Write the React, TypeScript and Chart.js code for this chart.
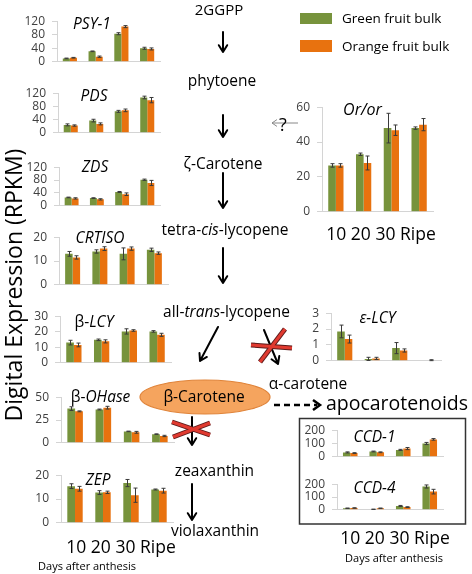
import React, { useEffect, useRef } from "react";
import { Chart, registerables } from "chart.js";
Chart.register(...registerables);

// ---------- data ----------
const CATEGORIES = ["10", "20", "30", "Ripe"];
const SERIES_NAMES = ["Green fruit bulk", "Orange fruit bulk"];
const X_TITLE = "Days after anthesis";
const Y_TITLE = "Digital Expression (RPKM)";

const PSY1_GREEN = [10, 31, 83, 40];
const PSY1_ORANGE = [12, 15, 104, 38];
const PSY1_GREEN_ERR = [1, 1, 3, 3];
const PSY1_ORANGE_ERR = [1, 2, 3, 3];

const PDS_GREEN = [24, 37, 65, 107];
const PDS_ORANGE = [22, 27, 68, 99];
const PDS_GREEN_ERR = [3, 4, 3, 4];
const PDS_ORANGE_ERR = [2, 3, 4, 8];

const ZDS_GREEN = [26, 24, 43, 81];
const ZDS_ORANGE = [23, 20, 36, 71];
const ZDS_GREEN_ERR = [1, 1, 1.5, 2];
const ZDS_ORANGE_ERR = [2, 2, 4, 8];

const CRTISO_GREEN = [13, 14, 13, 14.7];
const CRTISO_ORANGE = [11.5, 15.2, 15.2, 13.3];
const CRTISO_GREEN_ERR = [1, 0.7, 2.5, 0.7];
const CRTISO_ORANGE_ERR = [0.7, 0.8, 0.7, 0.5];

const BLCY_GREEN = [13, 14.8, 20.2, 20.2];
const BLCY_ORANGE = [11.5, 13.8, 20.8, 18];
const BLCY_GREEN_ERR = [1.5, 0.5, 1.7, 0.5];
const BLCY_ORANGE_ERR = [1.2, 1, 0.5, 1];

const BOH_GREEN = [37.5, 36.5, 12.5, 9.5];
const BOH_ORANGE = [34.5, 38.5, 11.5, 7.5];
const BOH_GREEN_ERR = [2, 0.5, 0.3, 0.3];
const BOH_ORANGE_ERR = [0.5, 1.5, 1, 0.7];

const ZEP_GREEN = [15.4, 12.7, 16.7, 14];
const ZEP_ORANGE = [14.3, 12.8, 11.6, 13.5];
const ZEP_GREEN_ERR = [1, 0.8, 1.5, 0.2];
const ZEP_ORANGE_ERR = [1, 0.5, 3, 1];

const OR_GREEN = [26.6, 33, 48, 48];
const OR_ORANGE = [26.6, 28, 46.8, 50];
const OR_GREEN_ERR = [1, 0.7, 8.5, 0.7];
const OR_ORANGE_ERR = [1, 4, 3, 3.5];

const ELCY_GREEN = [1.85, 0.12, 0.8, 0];
const ELCY_ORANGE = [1.37, 0.15, 0.65, 0.04];
const ELCY_GREEN_ERR = [0.4, 0.1, 0.35, 0];
const ELCY_ORANGE_ERR = [0.25, 0.07, 0.1, 0.03];

const CCD1_GREEN = [33, 40, 52, 100];
const CCD1_ORANGE = [28, 34, 62, 131];
const CCD1_GREEN_ERR = [4, 3, 4, 8];
const CCD1_ORANGE_ERR = [3, 3, 8, 6];

const CCD4_GREEN = [12, 4, 30, 182];
const CCD4_ORANGE = [14, 12, 21, 142];
const CCD4_GREEN_ERR = [2, 1, 4, 12];
const CCD4_ORANGE_ERR = [2, 2, 3, 18];

// ---------- styles ----------
const GREEN = "#77933C";
const ORANGE = "#E8720F";
const AXIS = "#D4D4D4";
const TICK = "#404040";
const FONT = "'Open Sans', sans-serif";

Chart.defaults.font.family = FONT;

const errorBarPlugin = {
  id: "errbars",
  afterDatasetsDraw(chart: any) {
    const ctx = chart.ctx;
    const ys = chart.scales.y;
    ctx.save();
    ctx.strokeStyle = "#3a3a3a";
    ctx.lineWidth = 1;
    chart.data.datasets.forEach((ds: any, i: number) => {
      const meta = chart.getDatasetMeta(i);
      meta.data.forEach((bar: any, j: number) => {
        const e = ds.errors ? ds.errors[j] : 0;
        if (!e) return;
        const v = ds.data[j];
        const x = Math.round(bar.x) + 0.5;
        const y1 = ys.getPixelForValue(v + e);
        const y2 = ys.getPixelForValue(Math.max(0, v - e));
        ctx.beginPath();
        ctx.moveTo(x, y1);
        ctx.lineTo(x, y2);
        ctx.moveTo(x - 2, y1);
        ctx.lineTo(x + 2, y1);
        ctx.moveTo(x - 2, y2);
        ctx.lineTo(x + 2, y2);
        ctx.stroke();
      });
    });
    ctx.restore();
  },
};

type PanelProps = {
  left: number;
  right: number;
  top: number;
  bottom: number;
  max: number;
  step: number;
  green: number[];
  orange: number[];
  gErr: number[];
  oErr: number[];
};

function Panel(p: PanelProps) {
  const ref = useRef<HTMLCanvasElement>(null);
  const YW = 40, PT = 10, PR = 4, PB = 4;
  const L = Math.round(p.left), R = Math.round(p.right);
  const T = Math.round(p.top), B = Math.round(p.bottom);
  const cw = R - L + YW + PR;
  const ch = B - T + PT + PB;
  useEffect(() => {
    const chart = new Chart(ref.current as HTMLCanvasElement, {
      type: "bar",
      data: {
        labels: CATEGORIES,
        datasets: [
          {
            label: SERIES_NAMES[0],
            data: p.green,
            backgroundColor: GREEN,
            borderWidth: 0,
            categoryPercentage: 0.55,
            barPercentage: 1,
            errors: p.gErr,
          } as any,
          {
            label: SERIES_NAMES[1],
            data: p.orange,
            backgroundColor: ORANGE,
            borderWidth: 0,
            categoryPercentage: 0.55,
            barPercentage: 1,
            errors: p.oErr,
          } as any,
        ],
      },
      options: {
        responsive: false,
        animation: false,
        devicePixelRatio: 1,
        layout: { padding: { left: 0, top: PT, right: PR, bottom: PB } },
        plugins: { legend: { display: false }, tooltip: { enabled: false } },
        scales: {
          x: {
            grid: { display: false },
            border: { display: true, color: AXIS, width: 1 },
            ticks: { display: false },
            afterFit: (s: any) => {
              s.height = 0;
            },
          },
          y: {
            min: 0,
            max: p.max,
            afterFit: (s: any) => {
              s.width = YW;
            },
            ticks: {
              stepSize: p.step,
              autoSkip: false,
              font: { size: 12 },
              color: TICK,
              padding: 7,
            },
            grid: {
              display: true,
              drawOnChartArea: false,
              drawTicks: true,
              tickLength: 5,
              color: AXIS,
            },
            border: { display: true, color: AXIS },
          },
        },
      } as any,
      plugins: [errorBarPlugin],
    });
    return () => chart.destroy();
  }, []);
  return (
    <canvas
      ref={ref}
      width={cw}
      height={ch}
      style={{ position: "absolute", left: L - YW, top: T - PT, width: cw, height: ch }}
    />
  );
}

function Txt(props: {
  x: number;
  y: number;
  size: number;
  italic?: boolean;
  color?: string;
  children: React.ReactNode;
}) {
  return (
    <div
      style={{
        position: "absolute",
        left: props.x,
        top: props.y,
        transform: "translate(-50%,-50%)",
        fontSize: props.size,
        fontStyle: props.italic ? "italic" : "normal",
        color: props.color || "#000",
        whiteSpace: "nowrap",
        lineHeight: 1,
        fontFamily: FONT,
      }}
    >
      {props.children}
    </div>
  );
}

function arrowPath(x1: number, y1: number, x2: number, y2: number, len = 8, ang = 0.55) {
  const a = Math.atan2(y2 - y1, x2 - x1);
  const p1x = x2 - len * Math.cos(a - ang), p1y = y2 - len * Math.sin(a - ang);
  const p2x = x2 - len * Math.cos(a + ang), p2y = y2 - len * Math.sin(a + ang);
  return `M${x1},${y1} L${x2},${y2} M${p1x},${p1y} L${x2},${y2} L${p2x},${p2y}`;
}

function RedX(props: { a: number[]; b: number[] }) {
  const { a, b } = props;
  return (
    <g strokeLinecap="butt">
      <line x1={a[0]} y1={a[1]} x2={a[2]} y2={a[3]} stroke="#5a1a1a" strokeWidth={5} />
      <line x1={b[0]} y1={b[1]} x2={b[2]} y2={b[3]} stroke="#5a1a1a" strokeWidth={5} />
      <line x1={a[0]} y1={a[1]} x2={a[2]} y2={a[3]} stroke="#E03A30" strokeWidth={3} />
      <line x1={b[0]} y1={b[1]} x2={b[2]} y2={b[3]} stroke="#E03A30" strokeWidth={3} />
    </g>
  );
}

export default function App() {
  const labelRow = CATEGORIES.join(" ");
  return (
    <div
      style={{
        position: "absolute",
        left: 0,
        top: 0,
        width: 472,
        height: 574,
        background: "#fff",
        overflow: "hidden",
        fontFamily: FONT,
      }}
    >
      {/* left column panels */}
      <Panel left={57} right={160} top={17} bottom={72} max={120} step={40} green={PSY1_GREEN} orange={PSY1_ORANGE} gErr={PSY1_GREEN_ERR} oErr={PSY1_ORANGE_ERR} />
      <Panel left={58} right={160} top={89} bottom={143} max={120} step={40} green={PDS_GREEN} orange={PDS_ORANGE} gErr={PDS_GREEN_ERR} oErr={PDS_ORANGE_ERR} />
      <Panel left={59} right={160} top={163} bottom={216} max={120} step={40} green={ZDS_GREEN} orange={ZDS_ORANGE} gErr={ZDS_GREEN_ERR} oErr={ZDS_ORANGE_ERR} />
      <Panel left={59} right={168} top={233} bottom={295} max={20} step={10} green={CRTISO_GREEN} orange={CRTISO_ORANGE} gErr={CRTISO_GREEN_ERR} oErr={CRTISO_ORANGE_ERR} />
      <Panel left={60} right={171} top={312} bottom={373} max={30} step={10} green={BLCY_GREEN} orange={BLCY_ORANGE} gErr={BLCY_GREEN_ERR} oErr={BLCY_ORANGE_ERR} />
      <Panel left={61} right={174} top={393} bottom={453} max={50} step={25} green={BOH_GREEN} orange={BOH_ORANGE} gErr={BOH_GREEN_ERR} oErr={BOH_ORANGE_ERR} />
      <Panel left={61} right={173} top={471} bottom={533} max={20} step={10} green={ZEP_GREEN} orange={ZEP_ORANGE} gErr={ZEP_GREEN_ERR} oErr={ZEP_ORANGE_ERR} />

      {/* right column panels */}
      <Panel left={322} right={433} top={103} bottom={222} max={60} step={20} green={OR_GREEN} orange={OR_ORANGE} gErr={OR_GREEN_ERR} oErr={OR_ORANGE_ERR} />
      <Panel left={331} right={441} top={309} bottom={371} max={3} step={1} green={ELCY_GREEN} orange={ELCY_ORANGE} gErr={ELCY_GREEN_ERR} oErr={ELCY_ORANGE_ERR} />
      <Panel left={337} right={443} top={426} bottom={467} max={200} step={100} green={CCD1_GREEN} orange={CCD1_ORANGE} gErr={CCD1_GREEN_ERR} oErr={CCD1_ORANGE_ERR} />
      <Panel left={337} right={443} top={480} bottom={520} max={200} step={100} green={CCD4_GREEN} orange={CCD4_ORANGE} gErr={CCD4_GREEN_ERR} oErr={CCD4_ORANGE_ERR} />

      {/* pathway graphics */}
      <svg width={472} height={574} style={{ position: "absolute", left: 0, top: 0, pointerEvents: "none" }}>
        <g stroke="#000" strokeWidth={2} fill="none" strokeLinecap="round" strokeLinejoin="round">
          <path d={arrowPath(223, 32, 223, 52)} />
          <path d={arrowPath(223, 115, 223, 137)} />
          <path d={arrowPath(223, 173, 223, 208)} />
          <path d={arrowPath(223, 248, 223, 283)} />
          <path d={arrowPath(218, 327, 200, 361)} />
          <path d={arrowPath(264, 330, 278, 364)} />
          <path d={arrowPath(192, 417, 192, 445)} />
          <path d={arrowPath(192, 484, 192, 520)} />
        </g>
        <path d={arrowPath(298, 123, 272, 123, 6, 0.6)} stroke="#888" strokeWidth={1} fill="none" />
        <line x1={274} y1={405} x2={317} y2={405} stroke="#000" strokeWidth={2.5} strokeDasharray="6 4" />
        <path d="M313,400 L320,405 L313,410" stroke="#000" strokeWidth={2.5} fill="none" />
        <ellipse cx={205} cy={397} rx={65} ry={17} fill="#F5A45E" stroke="#E0843A" strokeWidth={1.2} />
        <RedX a={[251, 345, 292, 348]} b={[260, 362, 285, 329]} />
        <RedX a={[172, 422, 210, 435]} b={[173, 437, 210, 423]} />
        <rect x={299.5} y={418.5} width={166} height={105.5} fill="none" stroke="#333" strokeWidth={1.5} />
        <rect x={300} y={13} width={32} height={11} fill={GREEN} />
        <rect x={300} y={40} width={32} height={12} fill={ORANGE} />
      </svg>

      {/* legend text */}
      <div style={{ position: "absolute", left: 342, top: 10, fontSize: 13.5, lineHeight: "16px", whiteSpace: "nowrap" }}>{SERIES_NAMES[0]}</div>
      <div style={{ position: "absolute", left: 342, top: 38, fontSize: 13.5, lineHeight: "16px", whiteSpace: "nowrap" }}>{SERIES_NAMES[1]}</div>

      {/* pathway text */}
      <Txt x={219} y={9} size={15}>2GGPP</Txt>
      <Txt x={222} y={81} size={15.5}>phytoene</Txt>
      <Txt x={283} y={124} size={18}>?</Txt>
      <Txt x={223} y={164} size={15.5}>ζ-Carotene</Txt>
      <Txt x={225} y={230} size={15.5}>tetra-<i>cis</i>-lycopene</Txt>
      <Txt x={226.5} y={312} size={15.5}>all-<i>trans</i>-lycopene</Txt>
      <Txt x={204} y={397} size={15.5}>β-Carotene</Txt>
      <Txt x={308} y={384} size={15.5}>α-carotene</Txt>
      <Txt x={397} y={403} size={19.5}>apocarotenoids</Txt>
      <Txt x={214.5} y={471} size={15.5}>zeaxanthin</Txt>
      <Txt x={215} y={531} size={15.5}>violaxanthin</Txt>

      {/* panel titles */}
      <Txt x={92} y={24} size={15.5} italic>PSY-1</Txt>
      <Txt x={94} y={96} size={15.5} italic>PDS</Txt>
      <Txt x={95} y={167} size={15.5} italic>ZDS</Txt>
      <Txt x={100} y={238} size={15.5} italic>CRTISO</Txt>
      <Txt x={94} y={322} size={15.5}>β-<i>LCY</i></Txt>
      <Txt x={100.5} y={397} size={15.5}>β-<i>OHase</i></Txt>
      <Txt x={98} y={480} size={15.5} italic>ZEP</Txt>
      <Txt x={362.5} y={109} size={16} italic>Or/or</Txt>
      <Txt x={377.5} y={318} size={15.5} italic>ε-LCY</Txt>
      <Txt x={374.5} y={437} size={15.5} italic>CCD-1</Txt>
      <Txt x={374.5} y={488} size={15.5} italic>CCD-4</Txt>

      {/* axis label rows */}
      <Txt x={121} y={547} size={17.5}>{labelRow}</Txt>
      <Txt x={87} y={565} size={11}>{X_TITLE}</Txt>
      <Txt x={381} y={234} size={17.5}>{labelRow}</Txt>
      <Txt x={395} y={538} size={17.5}>{labelRow}</Txt>
      <Txt x={394} y={557} size={11}>{X_TITLE}</Txt>

      {/* y title */}
      <div
        style={{
          position: "absolute",
          left: 13,
          top: 285,
          transform: "translate(-50%,-50%) rotate(-90deg)",
          fontSize: 23,
          lineHeight: 1,
          whiteSpace: "nowrap",
        }}
      >
        {Y_TITLE}
      </div>
    </div>
  );
}
